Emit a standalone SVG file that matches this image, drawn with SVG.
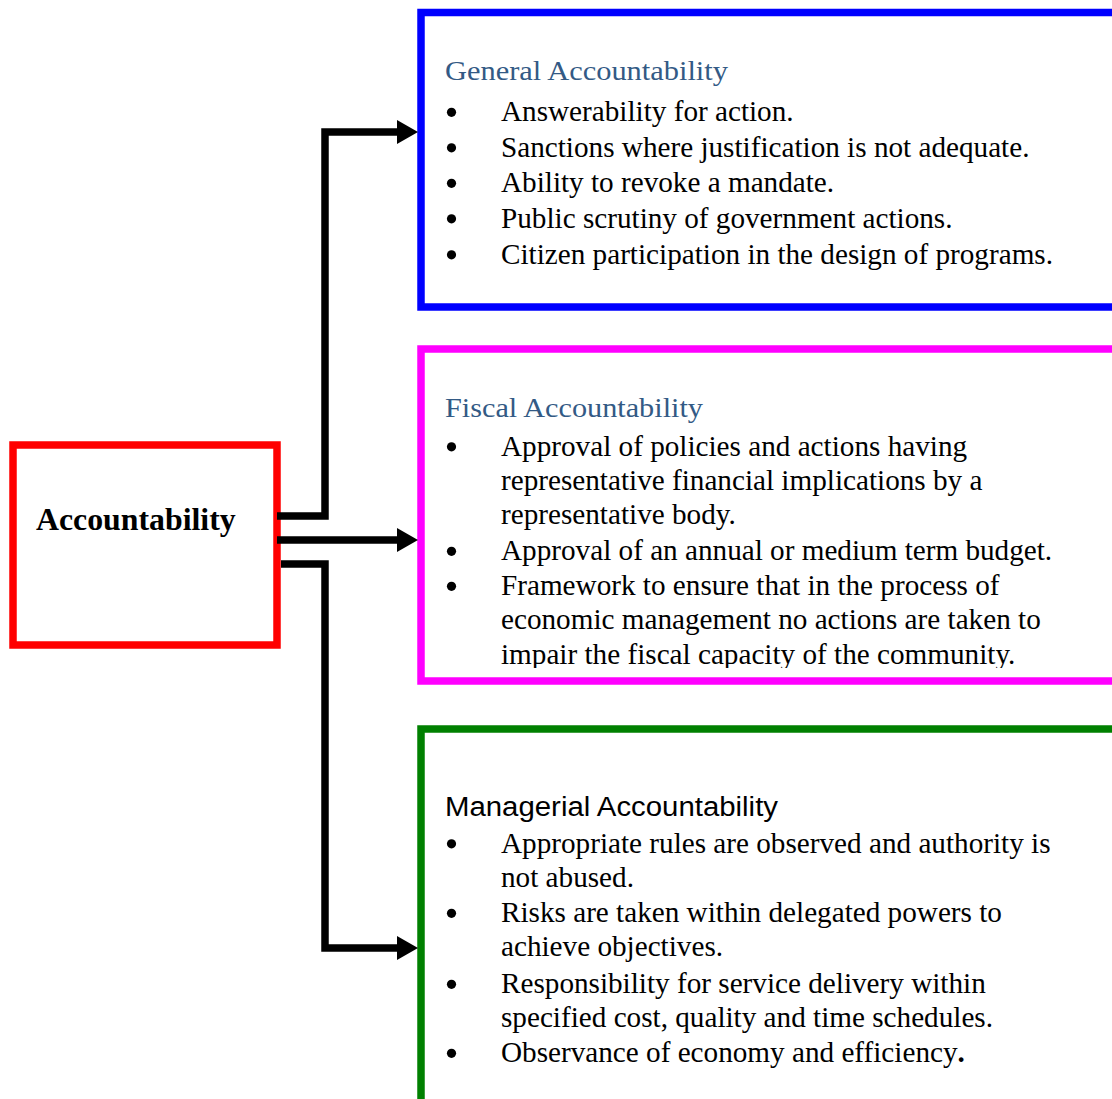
<svg xmlns="http://www.w3.org/2000/svg" width="1112" height="1099" viewBox="0 0 1112 1099">
  <style>
    .box { fill: #ffffff; stroke-width: 7.5; }
    .title { font-family: "Liberation Serif", "Times New Roman", serif; font-size: 27px; fill: #335a85; }
    .mtitle { font-family: "Liberation Sans", Arial, sans-serif; font-size: 27px; fill: #000000; }
    .body { font-family: "Liberation Serif", "Times New Roman", serif; font-size: 29.2px; fill: #000000; }
    .bullet { fill: #000000; }
    .conn { fill: none; stroke: #000000; stroke-width: 7.5; stroke-linejoin: miter; }
  </style>
  <defs>
    <marker id="arrow" viewBox="0 0 21 24" refX="0" refY="12" markerWidth="21" markerHeight="24" markerUnits="userSpaceOnUse" orient="auto">
      <path d="M0,0 L21,12 L0,24 Z" fill="#000000"/>
    </marker>
    <clipPath id="fiscalClip">
      <rect x="425" y="352" width="700" height="316"/>
    </clipPath>
  </defs>
  <rect width="1112" height="1099" fill="#ffffff"/>

  <g id="node-accountability">
    <rect class="box" x="13" y="445" width="264" height="200" stroke="#ff0000"/>
    <text x="36" y="530" font-family="'Liberation Serif', 'Times New Roman', serif" font-size="31.8" font-weight="bold" fill="#000000">Accountability</text>
  </g>

  <g id="node-general">
    <rect class="box" x="421" y="12.5" width="710" height="294.5" stroke="#0000ff"/>
    <text class="title" x="445" y="79.5" textLength="283" lengthAdjust="spacingAndGlyphs">General Accountability</text>
    <circle class="bullet" cx="451.5" cy="112.3" r="4.6"/>
    <text class="body" x="501" y="121">Answerability for action.</text>
    <circle class="bullet" cx="451.5" cy="147.8" r="4.6"/>
    <text class="body" x="501" y="156.5">Sanctions where justification is not adequate.</text>
    <circle class="bullet" cx="451.5" cy="183.3" r="4.6"/>
    <text class="body" x="501" y="192">Ability to revoke a mandate.</text>
    <circle class="bullet" cx="451.5" cy="218.8" r="4.6"/>
    <text class="body" x="501" y="227.5">Public scrutiny of government actions.</text>
    <circle class="bullet" cx="451.5" cy="254.8" r="4.6"/>
    <text class="body" x="501" y="263.5">Citizen participation in the design of programs.</text>
  </g>

  <g id="node-fiscal">
    <rect class="box" x="421" y="349" width="710" height="332" stroke="#ff00ff"/>
    <text class="title" x="445" y="416.5" textLength="258" lengthAdjust="spacingAndGlyphs">Fiscal Accountability</text>
    <g clip-path="url(#fiscalClip)">
      <circle class="bullet" cx="451.5" cy="446.8" r="4.6"/>
      <text class="body" x="501" y="455.5">Approval of policies and actions having</text>
      <text class="body" x="501" y="489.5">representative financial implications by a</text>
      <text class="body" x="501" y="523.5">representative body.</text>
      <circle class="bullet" cx="451.5" cy="551.3" r="4.6"/>
      <text class="body" x="501" y="560">Approval of an annual or medium term budget.</text>
      <circle class="bullet" cx="451.5" cy="586.3" r="4.6"/>
      <text class="body" x="501" y="595">Framework to ensure that in the process of</text>
      <text class="body" x="501" y="629">economic management no actions are taken to</text>
      <text class="body" x="501" y="663.5">impair the fiscal capacity of the community.</text>
    </g>
  </g>

  <g id="node-managerial">
    <rect class="box" x="421" y="729" width="710" height="400" stroke="#008000"/>
    <text class="mtitle" x="445" y="816" textLength="333" lengthAdjust="spacingAndGlyphs">Managerial Accountability</text>
    <circle class="bullet" cx="451.5" cy="843.8" r="4.6"/>
    <text class="body" x="501" y="852.5">Appropriate rules are observed and authority is</text>
    <text class="body" x="501" y="886.5">not abused.</text>
    <circle class="bullet" cx="451.5" cy="913.3" r="4.6"/>
    <text class="body" x="501" y="922">Risks are taken within delegated powers to</text>
    <text class="body" x="501" y="955.5">achieve objectives.</text>
    <circle class="bullet" cx="451.5" cy="984.3" r="4.6"/>
    <text class="body" x="501" y="993">Responsibility for service delivery within</text>
    <text class="body" x="501" y="1027">specified cost, quality and time schedules.</text>
    <circle class="bullet" cx="451.5" cy="1053.3" r="4.6"/>
    <text class="body" x="501" y="1062">Observance of economy and efficiency<tspan font-weight="bold">.</tspan></text>
  </g>

  <g id="connectors">
    <path class="conn" d="M277,516 H325 V132 H397" marker-end="url(#arrow)"/>
    <path class="conn" d="M277,540 H397" marker-end="url(#arrow)"/>
    <path class="conn" d="M281,564 H325 V948 H397" marker-end="url(#arrow)"/>
  </g>
</svg>
